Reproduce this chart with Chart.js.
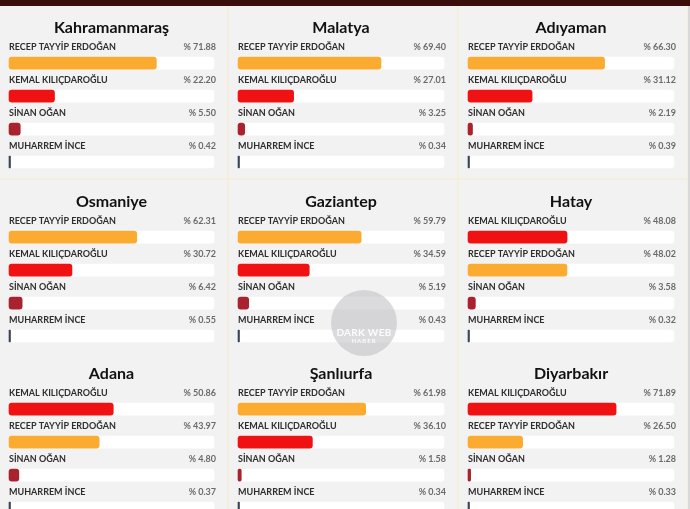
<!DOCTYPE html>
<html>
<head>
<meta charset="utf-8">
<script src="https://cdn.jsdelivr.net/npm/chart.js@4.4.0/dist/chart.umd.min.js"></script>
<style>
  html, body { margin: 0; padding: 0; }
  body { width: 690px; height: 509px; overflow: hidden; background: #f4efdc; position: relative; font-family: Lato, sans-serif; }
  #topbar { position: absolute; left: 0; top: 0; width: 690px; height: 6px; background: #3b0e0b; }
  #edge { position: absolute; right: 0; top: 6px; width: 2px; height: 503px; background: #d9d9d9; }
  .panel { position: absolute; background: #f2f2f2; }
  .panel canvas { display: block; }
  #mark { position: absolute; left: 331px; top: 290px; width: 66px; height: 66px; border-radius: 50%;
          background: rgba(190,190,195,0.55); color: rgba(255,255,255,0.9); text-align: center; font-weight: 700; }
  #mark .a { position: absolute; left: 0; right: 0; top: 36px; font-size: 10px; letter-spacing: 0.3px; }
  #mark .b { position: absolute; left: 0; right: 0; top: 47px; font-size: 6px; letter-spacing: 1px; }
</style>
</head>
<body>
<div id="topbar"></div>
<div id="edge"></div>
<div id="mark"><span class="a">DARK WEB</span><span class="b">HABER</span></div>

<script>
// seçim sonuçları (%), il bazında
const cities = ['Kahramanmaraş', 'Malatya', 'Adıyaman', 'Osmaniye', 'Gaziantep', 'Hatay', 'Adana', 'Şanlıurfa', 'Diyarbakır'];
const candidates = ['RECEP TAYYİP ERDOĞAN', 'KEMAL KILIÇDAROĞLU', 'SİNAN OĞAN', 'MUHARREM İNCE'];
const erdogan      = [71.88, 69.40, 66.30, 62.31, 59.79, 48.02, 43.97, 61.98, 26.50];
const kilicdaroglu = [22.20, 27.01, 31.12, 30.72, 34.59, 48.08, 50.86, 36.10, 71.89];
const ogan         = [5.50, 3.25, 2.19, 6.42, 5.19, 3.58, 4.80, 1.58, 1.28];
const ince         = [0.42, 0.34, 0.39, 0.55, 0.43, 0.32, 0.37, 0.34, 0.33];
const colors = ['#fbab2f', '#f01212', '#a8232e', '#3a4556'];

const colX = [0, 229, 459];
const colW = [227, 228, 228];
const rowY = [6, 180, 352];
const panelH = 172;

const barLabels = {
  id: 'barLabels',
  afterDatasetsDraw(chart) {
    const ctx = chart.ctx;
    const area = chart.chartArea;
    const meta = chart.getDatasetMeta(1);
    const names = chart.data.labels;
    const vals = chart.data.datasets[0].data;
    ctx.save();
    ctx.textBaseline = 'middle';
    meta.data.forEach((bar, i) => {
      const y = bar.y - 16;
      ctx.font = '700 9px Lato';
      ctx.fillStyle = '#2e2e2e';
      ctx.textAlign = 'left';
      ctx.fillText(names[i], area.left, y);
      ctx.fillStyle = '#6a6a6a';
      ctx.textAlign = 'right';
      ctx.fillText('% ' + vals[i].toFixed(2), area.right + 2, y);
    });
    ctx.restore();
  }
};

cities.forEach((city, c) => {
  const results = [erdogan[c], kilicdaroglu[c], ogan[c], ince[c]];
  const order = [0, 1, 2, 3].sort((a, b) => results[b] - results[a]);

  const div = document.createElement('div');
  div.className = 'panel';
  const w = colW[c % 3];
  div.style.left = colX[c % 3] + 'px';
  div.style.top = rowY[Math.floor(c / 3)] + 'px';
  div.style.width = w + 'px';
  div.style.height = panelH + 'px';
  const cv = document.createElement('canvas');
  cv.width = w;
  cv.height = panelH;
  div.appendChild(cv);
  document.body.insertBefore(div, document.getElementById('mark'));

  new Chart(cv.getContext('2d'), {
    type: 'bar',
    data: {
      labels: order.map(i => candidates[i]),
      datasets: [
        {
          data: order.map(i => results[i]),
          backgroundColor: order.map(i => colors[i]),
          barThickness: 12,
          borderRadius: 3,
          borderSkipped: false,
          minBarLength: 1.5,
          grouped: false,
          clip: false
        },
        {
          data: [100, 100, 100, 100],
          backgroundColor: '#ffffff',
          barThickness: 12,
          borderRadius: 3,
          borderSkipped: false,
          grouped: false,
          clip: false
        }
      ]
    },
    options: {
      indexAxis: 'y',
      responsive: false,
      animation: false,
      layout: { padding: { left: 9, right: 13, top: 0, bottom: 16 } },
      scales: {
        x: { min: 0, max: 100, display: false },
        y: { display: false, offset: false }
      },
      plugins: {
        legend: { display: false },
        tooltip: { enabled: false },
        title: {
          display: true,
          text: city,
          color: '#111111',
          font: { family: 'Lato', size: 16, weight: 'bold' },
          padding: { top: 12, bottom: 26 }
        }
      }
    },
    plugins: [barLabels]
  });
});
</script>
</body>
</html>
